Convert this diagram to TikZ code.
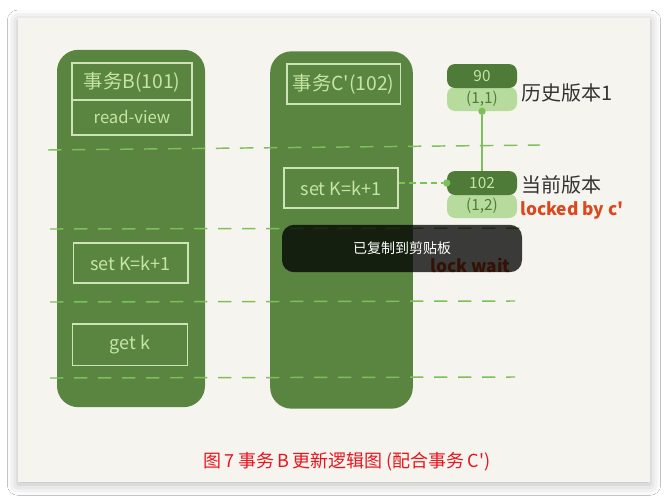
\documentclass[tikz,border=0pt]{standalone}
\usepackage{fontspec}
\newfontfamily\cjk{Noto Sans CJK SC}
\usetikzlibrary{shadows.blur}
\definecolor{paper}{HTML}{F6F4EE}
\definecolor{leaf}{HTML}{5A8541}
\definecolor{leafdark}{HTML}{4F7B38}
\definecolor{leaflight}{HTML}{B7DB9C}
\definecolor{chalk}{HTML}{CFE3B8}
\definecolor{chalktext}{HTML}{C6E4A6}
\definecolor{dashgreen}{HTML}{7CC05A}
\definecolor{ink}{HTML}{333333}
\definecolor{brick}{HTML}{D9481E}
\definecolor{caption}{HTML}{E8141E}
\tikzset{
  col/.style={fill=leaf, draw=none, rounded corners=16pt, minimum width=111pt, minimum height=268pt, inner sep=0pt},
  chalkbox/.style={draw=chalk, line width=1pt, minimum width=#1, minimum height=30pt, inner sep=0pt, font=\cjk\fontsize{13.5}{13.5}\selectfont, text=chalktext},
  chalkbox/.default=86pt,
  sep/.style={dashgreen, line width=1.1pt, dash pattern=on 10pt off 8pt},
  pilldark/.style={fill=leafdark, rounded corners=6pt, minimum width=52.5pt, minimum height=18pt, inner sep=0pt, text=chalktext, font=\cjk\fontsize{11.5}{11.5}\selectfont},
  pilllight/.style={fill=leaflight, rounded corners=6pt, minimum width=52.5pt, minimum height=18pt, inner sep=0pt, text=leafdark, font=\cjk\fontsize{11.5}{11.5}\selectfont},
  dot/.style={circle, fill=dashgreen, inner sep=0pt, minimum size=5.5pt},
  note/.style={anchor=west, inner sep=0pt, text=ink, font=\cjk\fontsize{15}{15}\selectfont},
  rednote/.style={anchor=west, inner sep=0pt, text=brick, font=\cjk\bfseries\fontsize{13}{13}\selectfont},
}
\begin{document}
\begin{tikzpicture}[x=0.75pt, y=-0.75pt]
  \useasboundingbox (0,0) rectangle (667,500);
  \fill[white] (0,0) rectangle (667,500);
  % card with soft shadow
  \node[fill=paper, minimum width=474pt, minimum height=348pt, inner sep=0pt,
        blur shadow={shadow xshift=0pt, shadow yshift=-2pt, shadow blur radius=8pt, shadow opacity=28}]
        (card) at (334,250) {};

  % transaction columns
  \node[col] (colB) at (131,228.5) {};
  \node[col, minimum width=107pt] (colC) at (341.5,230) {};

  % time separators
  \draw[sep] (48,150) -- (540,145);
  \draw[sep] (50,229) -- (525,228);
  \draw[sep] (50,302) -- (515,301);
  \draw[sep] (50,378) -- (515,377);

  % transaction B
  \node[chalkbox=90pt, minimum height=54pt] (headB) at (132,99) {};
  \draw[draw=chalk, line width=1pt] (headB.west |- 0,100) -- (headB.east |- 0,100);
  \node[text=chalktext, font=\cjk\fontsize{14.5}{14.5}\selectfont] (titleB) at (132,82) {事务B(101)};
  \node[text=chalktext, font=\cjk\fontsize{12.5}{12.5}\selectfont] (rvB) at (132,117) {read-view};
  \node[chalkbox] (setB) at (130.5,263) {set K=k+1};
  \node[chalkbox, minimum height=31pt] (getB) at (130,344.5) {get k};

  % transaction C'
  \node[chalkbox=85pt, font=\cjk\fontsize{14.5}{14.5}\selectfont] (titleC) at (343.5,84) {事务C'(102)};
  \node[chalkbox=85.5pt] (setC) at (341,188) {set K=k+1};

  % row versions
  \node[pilllight] (v90row) at (482,99) {(1,1)};
  \node[pilldark] (v90) at (482,76) {90};
  \node[pilllight] (v102row) at (482,206) {(1,2)};
  \node[pilldark] (v102) at (482,183) {102};
  \node[dot] (link90) at (v90row.south) {};
  \node[dot] (link102) at (v102.west) {};
  \draw[dashgreen, line width=1.1pt] (link90) -- (v102.north);
  \draw[dashgreen, line width=1.1pt, dash pattern=on 5pt off 3pt] (setC.east |- link102) -- (link102);

  \node[note] (hist) at (521,93) {历史版本1};
  \node[note] (cur) at (521,185) {当前版本};
  \node[rednote] (locked) at (520,210) {locked by c'};
  \node[rednote] (wait) at (430,265) {lock wait};

  % clipboard toast
  \node[fill=black, fill opacity=0.76, rounded corners=9pt, minimum width=180pt, minimum height=35.5pt, inner sep=0pt,
        text opacity=1, text=white, font=\cjk\fontsize{10.5}{10.5}\selectfont] (toast) at (402,248.5) {已复制到剪贴板};

  % caption
  \node[text=caption, font=\cjk\fontsize{13.5}{13.5}\selectfont] (cap) at (347,462) {图\,7 事务\,B\,更新逻辑图 (配合事务\,C')};
\end{tikzpicture}
\end{document}
